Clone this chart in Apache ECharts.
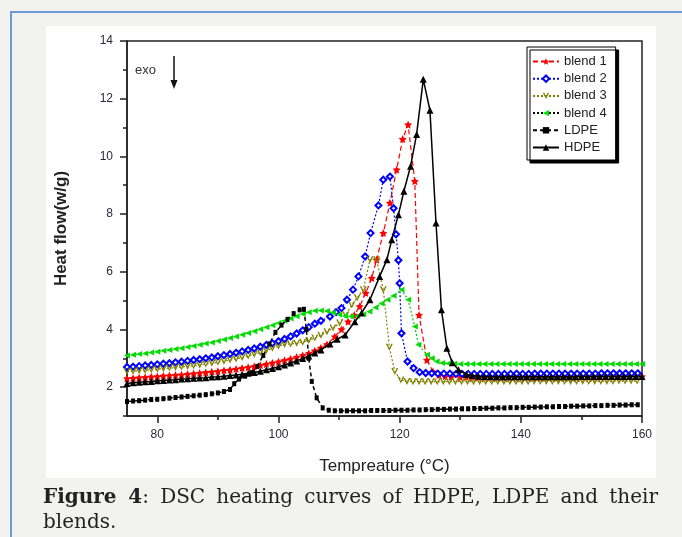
<!DOCTYPE html>
<html>
<head>
<meta charset="utf-8">
<script src="https://cdn.jsdelivr.net/npm/echarts@6/dist/echarts.min.js"></script>
<style>
html,body{margin:0;padding:0;width:682px;height:537px;overflow:hidden;background:#f2f2ee;}
#vline{position:absolute;left:10px;top:11px;width:2px;height:530px;background:#6f9ad8;}
#hline{position:absolute;left:10px;top:11px;width:680px;height:2px;background:#6f9ad8;}
#box{position:absolute;left:46px;top:26px;width:610px;height:452px;background:#fff;}
#chart{position:absolute;left:0;top:0;width:682px;height:537px;}
#cap{position:absolute;left:43px;top:484px;width:615px;font-family:"DejaVu Serif",serif;font-size:20px;line-height:25px;color:#222;text-align:justify;text-align-last:left;}
#cap b{font-weight:bold;}
</style>
</head>
<body>
<div id="vline"></div><div id="hline"></div><div id="box"></div>
<div id="chart"></div>
<div id="cap"><b>Figure 4</b>: DSC heating curves of HDPE, LDPE and their blends.</div>
<script>
const seriesNames = ['blend 1','blend 2','blend 3','blend 4','LDPE','HDPE'];
const xTicks = [80,100,120,140,160];
const xMinorTicks = [90,110,130,150];
const yTicks = [2,4,6,8,10,12,14];
const yMinorTicks = [1,3,5,7,9,11,13];

const blend1 = [[75,2.30],[76,2.31],[77,2.33],[78,2.34],[79,2.36],[80,2.37],[81,2.39],[82,2.40],[83,2.42],[84,2.43],[85,2.45],[86,2.47],[87,2.49],[88,2.51],[89,2.53],[90,2.55],[91,2.58],[92,2.60],[93,2.63],[94,2.66],[95,2.69],[96,2.72],[97,2.76],[98,2.80],[99,2.84],[100,2.88],[101,2.93],[102,2.98],[103,3.04],[104,3.10],[105,3.17],[106,3.26],[107,3.36],[108,3.48],[109.3,3.75],[110.4,4.00],[111.5,4.27],[112.5,4.50],[113.4,4.80],[114.4,5.26],[115.4,5.78],[116.2,6.42],[117.3,7.34],[118.4,8.39],[119.5,9.54],[120.5,10.6],[121.4,11.1],[122.5,9.14],[123.2,4.50],[124.5,2.94],[125.5,2.54],[126.5,2.42],[127.5,2.38],[128.5,2.36],[130,2.35],[131,2.35],[132,2.34],[133,2.34],[134,2.34],[135,2.35],[136,2.34],[137,2.34],[138,2.35],[139,2.35],[140,2.35],[141,2.35],[142,2.34],[143,2.35],[144,2.35],[145,2.35],[146,2.35],[147,2.35],[148,2.36],[149,2.35],[150,2.36],[151,2.36],[152,2.35],[153,2.36],[154,2.36],[155,2.36],[156,2.36],[157,2.36],[158,2.37],[159,2.37],[160,2.37]];
const blend2 = [[75,2.70],[76,2.71],[77,2.73],[78,2.75],[79,2.77],[80,2.79],[81,2.81],[82,2.83],[83,2.86],[84,2.88],[85,2.91],[86,2.94],[87,2.97],[88,3.00],[89,3.03],[90,3.07],[91,3.11],[92,3.15],[93,3.19],[94,3.24],[95,3.29],[96,3.34],[97,3.40],[98,3.46],[99,3.52],[100,3.59],[101,3.67],[102,3.76],[103,3.86],[104,3.97],[105,4.08],[106,4.20],[107,4.30],[108.5,4.45],[109.5,4.60],[110.4,4.74],[111.3,5.03],[112.3,5.38],[113.2,5.84],[114.3,6.53],[115.2,7.34],[116.5,8.30],[117.3,9.19],[118.4,9.30],[119,8.20],[119.4,7.30],[119.8,6.40],[120,5.60],[120.3,3.87],[121.3,2.89],[122.3,2.66],[123.3,2.52],[124.3,2.49],[125.3,2.48],[126.3,2.47],[127.3,2.47],[128.3,2.47],[129.3,2.46],[130.3,2.46],[131.3,2.46],[132.3,2.46],[133.3,2.46],[134.3,2.46],[135.3,2.46],[136.3,2.46],[137.3,2.46],[138.3,2.46],[139.3,2.47],[140.3,2.46],[141.3,2.46],[142.3,2.47],[143.3,2.47],[144.3,2.47],[145.3,2.47],[146.3,2.47],[147.3,2.47],[148.3,2.47],[149.3,2.47],[150.3,2.47],[151.3,2.47],[152.3,2.47],[153.3,2.48],[154.3,2.48],[155.3,2.48],[156.3,2.48],[157.3,2.48],[158.3,2.48],[159.3,2.48]];
const blend3 = [[75,2.54],[76,2.55],[77,2.57],[78,2.58],[79,2.60],[80,2.62],[81,2.64],[82,2.66],[83,2.68],[84,2.70],[85,2.72],[86,2.74],[87,2.77],[88,2.80],[89,2.83],[90,2.86],[91,2.90],[92,2.94],[93,2.98],[94,3.03],[95,3.08],[96,3.14],[97,3.20],[98,3.27],[99,3.35],[100,3.42],[101,3.48],[102,3.50],[103,3.52],[104,3.56],[105,3.62],[106,3.70],[107,3.80],[108,3.92],[109,4.05],[110.1,4.22],[111.1,4.50],[112.1,4.85],[113,5.10],[114,5.38],[115.1,6.42],[116.2,6.42],[117.3,5.38],[118.3,3.38],[119.2,2.54],[120.2,2.25],[121.2,2.20],[122.2,2.19],[123.2,2.19],[124.2,2.19],[125.2,2.19],[126.2,2.19],[127.2,2.19],[128.2,2.19],[129.2,2.19],[130.2,2.19],[131.2,2.19],[132.2,2.19],[133.2,2.19],[134.2,2.19],[135.2,2.19],[136.2,2.19],[137.2,2.19],[138.2,2.19],[139.2,2.19],[140.2,2.19],[141.2,2.19],[142.2,2.2],[143.2,2.2],[144.2,2.2],[145.2,2.2],[146.2,2.2],[147.2,2.2],[148.2,2.2],[149.2,2.2],[150.2,2.2],[151.2,2.2],[152.2,2.2],[153.2,2.2],[154.2,2.2],[155.2,2.2],[156.2,2.21],[157.2,2.21],[158.2,2.21],[159.2,2.21]];
const blend4 = [[75,3.10],[76,3.12],[77,3.15],[78,3.17],[79,3.20],[80,3.23],[81,3.26],[82,3.29],[83,3.32],[84,3.35],[85,3.39],[86,3.43],[87,3.47],[88,3.51],[89,3.55],[90,3.60],[91,3.65],[92,3.70],[93,3.76],[94,3.82],[95,3.88],[96,3.94],[97,4.01],[98,4.08],[99,4.15],[100,4.22],[101,4.30],[102,4.38],[103,4.46],[104,4.54],[105,4.60],[106,4.65],[107,4.66],[108,4.64],[109,4.58],[110,4.52],[111,4.47],[112,4.45],[113,4.47],[114,4.53],[115,4.62],[116,4.76],[117,4.90],[118,5.03],[119,5.17],[120.3,5.38],[121.4,5.03],[122.5,4.10],[123.1,3.47],[124.5,3.12],[125.3,3.00],[126.1,2.89],[127,2.84],[128,2.82],[129,2.81],[130,2.80],[131,2.80],[132,2.80],[133,2.80],[134,2.80],[135,2.80],[136,2.80],[137,2.80],[138,2.80],[139,2.80],[140,2.80],[141,2.80],[142,2.80],[143,2.80],[144,2.80],[145,2.80],[146,2.80],[147,2.80],[148,2.80],[149,2.80],[150,2.80],[151,2.80],[152,2.80],[153,2.80],[154,2.80],[155,2.80],[156,2.80],[157,2.80],[158,2.80],[159,2.80],[160,2.80]];
const ldpe = [[75,1.50],[76,1.52],[77,1.53],[78,1.55],[79,1.57],[80,1.58],[81,1.60],[82,1.62],[83,1.64],[84,1.66],[85,1.68],[86,1.70],[87,1.72],[88,1.74],[89,1.77],[90,1.80],[91,1.85],[92,1.92],[92.7,2.12],[93.5,2.28],[94.5,2.38],[95.5,2.50],[96.5,2.72],[97.5,3.10],[98.5,3.50],[99.5,3.90],[100.5,4.15],[101.5,4.35],[102.5,4.55],[103.5,4.68],[104.2,4.70],[104.6,4.00],[105.0,3.00],[105.5,2.20],[106.3,1.63],[107.3,1.28],[108.3,1.20],[109.3,1.18],[110.3,1.18],[111.3,1.18],[112.3,1.18],[113.3,1.18],[114.3,1.18],[115.3,1.19],[116.3,1.19],[117.3,1.19],[118.3,1.19],[119.3,1.20],[120.3,1.20],[121.3,1.20],[122.3,1.21],[123.3,1.21],[124.3,1.22],[125.3,1.22],[126.3,1.23],[127.3,1.23],[128.3,1.24],[129.3,1.24],[130.3,1.25],[131.3,1.25],[132.3,1.26],[133.3,1.26],[134.3,1.27],[135.3,1.27],[136.3,1.28],[137.3,1.28],[138.3,1.29],[139.3,1.29],[140.3,1.30],[141.3,1.30],[142.3,1.31],[143.3,1.31],[144.3,1.32],[145.3,1.32],[146.3,1.33],[147.3,1.33],[148.3,1.34],[149.3,1.34],[150.3,1.35],[151.3,1.35],[152.3,1.36],[153.3,1.36],[154.3,1.37],[155.3,1.37],[156.3,1.38],[157.3,1.38],[158.3,1.39],[159.3,1.39]];
const hdpe = [[75,2.13],[76,2.15],[77,2.17],[78,2.19],[79,2.20],[80,2.22],[81,2.23],[82,2.25],[83,2.26],[84,2.28],[85,2.29],[86,2.31],[87,2.32],[88,2.33],[89,2.35],[90,2.36],[91,2.38],[92,2.40],[93,2.42],[94,2.45],[95,2.48],[96,2.51],[97,2.55],[98,2.60],[99,2.65],[100,2.71],[101,2.77],[102,2.84],[103,2.91],[104,2.99],[105,3.08],[106,3.18],[107,3.29],[108.5,3.50],[109.7,3.66],[111,3.81],[112.6,4.27],[113.7,4.57],[115.1,5.03],[116.7,5.84],[117.9,6.42],[118.7,7.11],[119.8,7.98],[120.7,8.79],[121.8,9.66],[122.8,10.76],[123.9,12.67],[125,11.6],[126,7.69],[126.9,4.68],[127.8,3.35],[128.7,2.85],[129.7,2.60],[131,2.45],[132,2.40],[133,2.38],[134,2.37],[135,2.36],[136,2.36],[137,2.36],[138,2.36],[139,2.36],[140,2.36],[141,2.36],[142,2.36],[143,2.36],[144,2.36],[145,2.36],[146,2.36],[147,2.36],[148,2.36],[149,2.36],[150,2.37],[151,2.37],[152,2.37],[153,2.37],[154,2.37],[155,2.37],[156,2.37],[157,2.37],[158,2.37],[159,2.37],[160,2.37]];

const seriesData = [blend1, blend2, blend3, blend4, ldpe, hdpe];
const colors = ['#ff0000','#0000ff','#808000','#00dd00','#000000','#000000'];
const lineColors = ['#ff0000','#0000ff','#808000','#00cc00','#000000','#000000'];
const STAR = 'path://M0,-10L2.9,-4L9.5,-3.1L4.7,1.5L5.9,8.1L0,5L-5.9,8.1L-4.7,1.5L-9.5,-3.1L-2.9,-4Z';
const VSYM = 'path://M-5,-5L-2.6,-5L0,1.5L2.6,-5L5,-5L0,5Z';
const symbols = [STAR,'emptyDiamond',VSYM,'triangle','rect','triangle'];
const symSizes = [8,6,7,6,[4,5],7];
const symRot = [0,0,0,90,0,0];
const dashes = [[5,3],[2,2],[2,2],[2,2],[4,3],'solid'];
const widths = [1.2,1.2,1.2,1.2,1.5,1.5];

const chart = echarts.init(document.getElementById('chart'), null, {renderer:'canvas'});
const FONT = 'Liberation Sans, Arial, sans-serif';
const labelFont = {fontFamily:FONT, fontSize:12, color:'#2a2a3a'};
const axisCol = '#222';
const option = {
  animation:false,
  backgroundColor:'transparent',
  grid:{left:127, top:41, width:515, height:375, show:true, backgroundColor:'#fff', borderColor:axisCol, borderWidth:1.5},
  xAxis:[{type:'value', min:75, max:160, interval:5,
    name:'Tempreature (°C)', nameLocation:'middle', nameGap:42,
    nameTextStyle:{fontFamily:FONT, fontSize:17, color:'#222'},
    axisLine:{show:true, lineStyle:{color:axisCol, width:1.5}},
    axisTick:{show:true, inside:false, length:7, customValues:xTicks, lineStyle:{color:axisCol, width:1.5}},
    axisLabel:Object.assign({margin:13, customValues:xTicks}, labelFont),
    splitLine:{show:false}},
   {type:'value', min:75, max:160, interval:5, position:'bottom',
    axisLine:{show:false},
    axisTick:{show:true, inside:false, length:4, customValues:xMinorTicks, lineStyle:{color:axisCol, width:1.5}},
    axisLabel:{show:false}, splitLine:{show:false}}],
  yAxis:[{type:'value', min:1, max:14, interval:1,
    name:'Heat flow(w/g)', nameLocation:'middle', nameGap:57,
    nameTextStyle:{fontFamily:FONT, fontSize:17, fontWeight:'bold', color:'#222'},
    axisLine:{show:true, lineStyle:{color:axisCol, width:1.5}},
    axisTick:{show:true, inside:false, length:7, customValues:yTicks, lineStyle:{color:axisCol, width:1.5}},
    axisLabel:Object.assign({margin:14, customValues:yTicks}, labelFont),
    splitLine:{show:false}},
   {type:'value', min:1, max:14, interval:1, position:'left',
    axisLine:{show:false},
    axisTick:{show:true, inside:false, length:4, customValues:yMinorTicks, lineStyle:{color:axisCol, width:1.5}},
    axisLabel:{show:false}, splitLine:{show:false}}],
  legend:{orient:'vertical', left:527, top:47, padding:[8,9,6,5], itemGap:4.2, itemWidth:26, itemHeight:8,
    backgroundColor:'#fff', borderColor:'#000', borderWidth:1,
    shadowColor:'#000', shadowOffsetX:3, shadowOffsetY:3, shadowBlur:0,
    textStyle:{fontFamily:FONT, fontSize:13, lineHeight:13, color:'#222'},
    data:seriesNames.map((n,i)=> i===3 ? {name:n, lineStyle:{color:'#000'}} : {name:n})},
  graphic:[
    {type:'text', left:135, top:64, style:{text:'exo', font:'13px Liberation Sans, Arial', fill:'#333'}},
    {type:'line', shape:{x1:174, y1:56, x2:174, y2:84}, style:{stroke:'#111', lineWidth:1.5}},
    {type:'polygon', shape:{points:[[170.5,80],[177.5,80],[174,89]]}, style:{fill:'#111'}}
  ],
  series:seriesNames.map((n,i)=>({
    name:n, type:'line', data:seriesData[i], showAllSymbol:true,
    xAxisIndex:0, yAxisIndex:0,
    symbol:symbols[i], symbolSize:symSizes[i], symbolRotate:symRot[i],
    itemStyle:{color:colors[i], borderColor:colors[i], borderWidth: i===1?1:0},
    lineStyle:{color:lineColors[i], width:widths[i], type:dashes[i]},
    z: i===5 ? 5 : 2
  }))
};
chart.setOption(option);
</script>
</body>
</html>
